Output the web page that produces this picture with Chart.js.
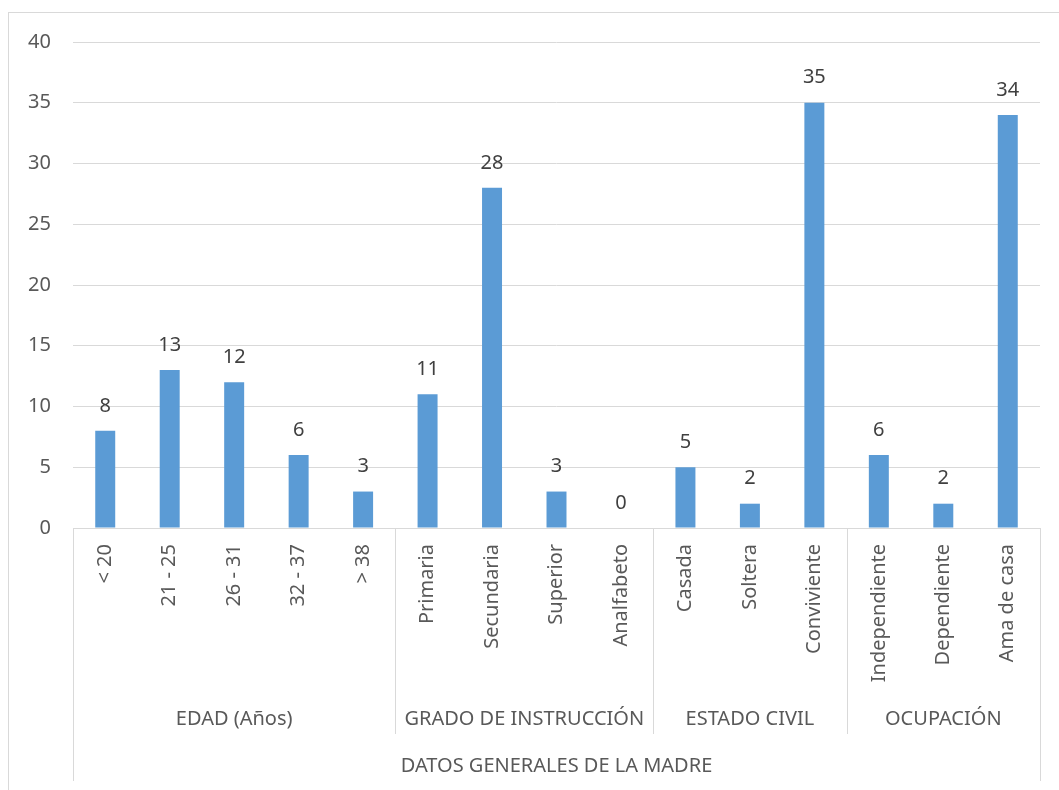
<!DOCTYPE html>
<html>
<head>
<meta charset="utf-8">
<script src="https://cdn.jsdelivr.net/npm/chart.js@4/dist/chart.umd.min.js"></script>
<style>
  html, body { margin: 0; padding: 0; background: #fff; }
  #wrap { position: relative; width: 1059px; height: 790px; }
</style>
</head>
<body>
<div id="wrap"><canvas id="chart" width="1059" height="790"></canvas></div>
<script>
const categories = ['< 20', '21 - 25', '26 - 31', '32 - 37', '> 38',
  'Primaria', 'Secundaria', 'Superior', 'Analfabeto',
  'Casada', 'Soltera', 'Conviviente',
  'Independiente', 'Dependiente', 'Ama de casa'];
const values = [8, 13, 12, 6, 3, 11, 28, 3, 0, 5, 2, 35, 6, 2, 34];
const groups = ['EDAD (Años)', 'GRADO DE INSTRUCCIÓN', 'ESTADO CIVIL', 'OCUPACIÓN'];
const groupSizes = [5, 4, 3, 3];
const axisTitle = 'DATOS GENERALES DE LA MADRE';
const yTicks = [0, 5, 10, 15, 20, 25, 30, 35, 40];

const FONT = '"Noto Sans", "Open Sans", sans-serif';
const lineColor = '#d9d9d9';

// value labels above bars
const valueLabels = {
  id: 'valueLabels',
  afterDatasetsDraw(chart) {
    const ctx = chart.ctx;
    const meta = chart.getDatasetMeta(0);
    ctx.save();
    ctx.font = '20px ' + FONT;
    ctx.fillStyle = '#404040';
    ctx.textAlign = 'center';
    ctx.textBaseline = 'middle';
    meta.data.forEach((bar, i) => {
      ctx.fillText(String(values[i]), bar.x, bar.y - 25);
    });
    ctx.restore();
  }
};

// multi-level category axis: separators, group names, title, outer frame
const groupAxis = {
  id: 'groupAxis',
  afterDraw(chart) {
    const ctx = chart.ctx;
    const x = chart.scales.x;
    const area = chart.chartArea;
    const step = (x.right - x.left) / categories.length;
    const groupBottom = 734;
    const outerBottom = 781;
    ctx.save();
    ctx.strokeStyle = lineColor;
    ctx.lineWidth = 1;

    // outer chart frame
    ctx.strokeRect(8.5, 12.5, 1100, 800);

    // outer vertical lines
    [x.left, x.right].forEach(px => {
      ctx.beginPath();
      ctx.moveTo(Math.round(px) + 0.5, area.bottom);
      ctx.lineTo(Math.round(px) + 0.5, outerBottom);
      ctx.stroke();
    });

    ctx.font = '20px ' + FONT;
    ctx.fillStyle = '#595959';
    ctx.textAlign = 'center';
    ctx.textBaseline = 'middle';

    let start = 0;
    groups.forEach((g, i) => {
      const end = start + groupSizes[i];
      const x0 = x.left + start * step;
      const x1 = x.left + end * step;
      if (end < categories.length) {
        ctx.beginPath();
        ctx.moveTo(Math.round(x1) + 0.5, area.bottom);
        ctx.lineTo(Math.round(x1) + 0.5, groupBottom);
        ctx.stroke();
      }
      ctx.fillText(g, (x0 + x1) / 2, 719);
      start = end;
    });

    ctx.fillText(axisTitle, (x.left + x.right) / 2, 766);
    ctx.restore();
  }
};

new Chart(document.getElementById('chart').getContext('2d'), {
  type: 'bar',
  data: {
    labels: categories,
    datasets: [{
      data: values,
      backgroundColor: '#5b9bd5',
      borderWidth: 0,
      barPercentage: 0.62,
      categoryPercentage: 0.5
    }]
  },
  options: {
    responsive: false,
    animation: false,
    layout: { padding: { left: 0, top: 42, right: 19, bottom: 0 } },
    plugins: {
      legend: { display: false },
      tooltip: { enabled: false }
    },
    scales: {
      x: {
        grid: { display: false, drawTicks: false },
        border: { display: true, color: lineColor, width: 1 },
        ticks: {
          minRotation: 90,
          maxRotation: 90,
          autoSkip: false,
          padding: 16,
          color: '#595959',
          font: { family: FONT, size: 20 }
        },
        afterFit(scale) { scale.height = 262; }
      },
      y: {
        min: 0,
        max: 40,
        afterBuildTicks(scale) { scale.ticks = yTicks.map(v => ({ value: v })); },
        grid: { color: lineColor, lineWidth: 1, drawTicks: false },
        border: { display: false },
        ticks: {
          padding: 22,
          color: '#595959',
          font: { family: FONT, size: 20 }
        },
        afterFit(scale) { scale.width = 73; }
      }
    }
  },
  plugins: [valueLabels, groupAxis]
});
</script>
</body>
</html>
